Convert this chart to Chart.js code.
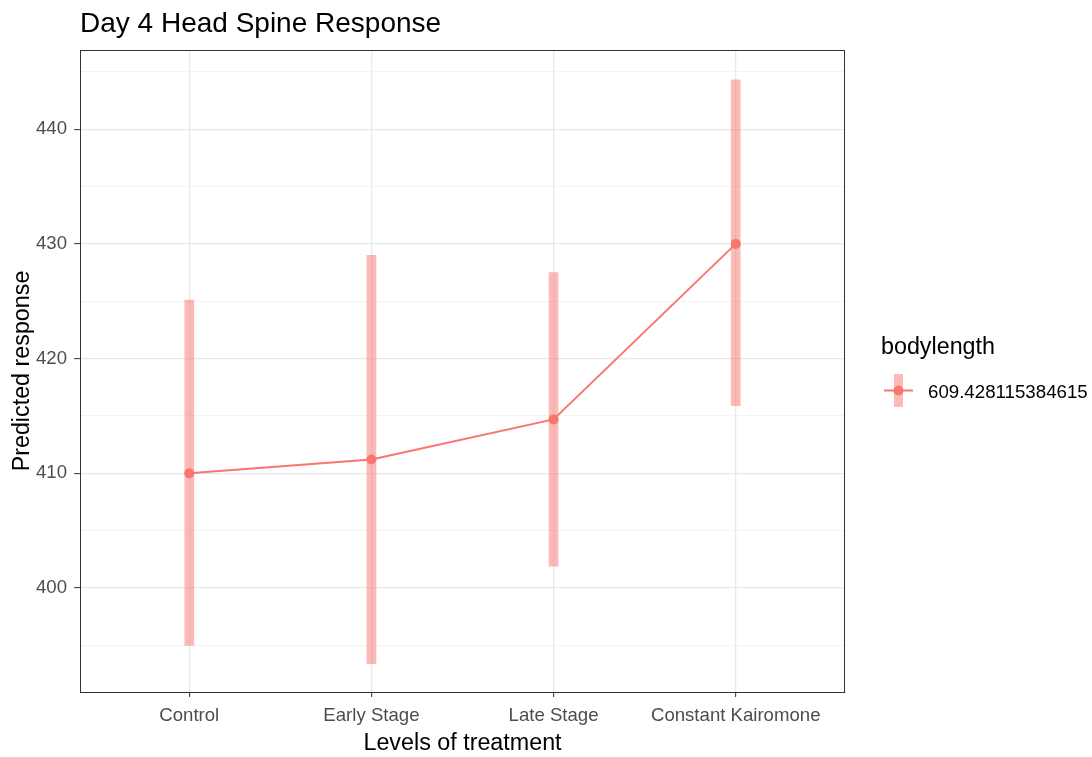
<!DOCTYPE html>
<html>
<head>
<meta charset="utf-8">
<script src="https://cdn.jsdelivr.net/npm/chart.js@4.4.1/dist/chart.umd.min.js"></script>
<style>
  html, body { margin: 0; padding: 0; background: #fff; }
  #wrap { width: 1092px; height: 757px; position: relative; }
</style>
</head>
<body>
<div id="wrap"><canvas id="c" width="1092" height="757"></canvas></div>
<script>
// ---- Data ----
const categories = ["Control", "Early Stage", "Late Stage", "Constant Kairomone"];
const predicted  = [410.0, 411.2, 414.7, 430.0];
const lowerCI    = [395.0, 393.4, 401.9, 415.9];
const upperCI    = [425.1, 429.0, 427.5, 444.3];
const yTicks     = [395, 400, 405, 410, 415, 420, 425, 430, 435, 440, 445];
const legendTitle = "bodylength";
const legendLabel = "609.428115384615";
const chartTitle = "Day 4 Head Spine Response";
const xTitle = "Levels of treatment";
const yTitle = "Predicted response";

const FONT = "'Liberation Sans', Arial, Helvetica, sans-serif";
const RED = "#F8766D";
const RED_A = "rgba(248,118,109,0.5)";

const extras = {
  id: 'extras',
  afterDraw(chart) {
    const ctx = chart.ctx;
    const a = chart.chartArea;
    ctx.save();
    // panel border
    ctx.strokeStyle = '#333333';
    ctx.lineWidth = 1;
    ctx.strokeRect(a.left + 0.5, a.top + 0.5, a.right - a.left - 1, a.bottom - a.top);
    // title
    ctx.fillStyle = '#000';
    ctx.font = "28px " + FONT;
    ctx.textBaseline = 'alphabetic';
    ctx.textAlign = 'left';
    ctx.fillText(chartTitle, 80, 32);
    // legend
    ctx.font = "23.3px " + FONT;
    ctx.fillText(legendTitle, 881, 354);
    // key
    ctx.fillStyle = RED_A;
    ctx.fillRect(894, 374, 9, 33);
    ctx.strokeStyle = RED;
    ctx.lineWidth = 2;
    ctx.beginPath();
    ctx.moveTo(884, 390.5); ctx.lineTo(913, 390.5);
    ctx.stroke();
    ctx.fillStyle = RED;
    ctx.beginPath();
    ctx.arc(898.5, 390.5, 5, 0, Math.PI * 2);
    ctx.fill();
    ctx.fillStyle = '#000';
    ctx.font = "18.7px " + FONT;
    ctx.fillText(legendLabel, 928, 398);
    ctx.restore();
  }
};

new Chart(document.getElementById('c'), {
  data: {
    datasets: [
      {
        type: 'line',
        order: 0,
        data: categories.map((c, i) => ({ x: i + 1, y: predicted[i] })),
        borderColor: RED,
        backgroundColor: RED,
        borderWidth: 2,
        pointRadius: 5,
        pointHoverRadius: 5,
        pointBackgroundColor: RED,
        pointBorderWidth: 0,
        tension: 0
      },
      {
        type: 'bar',
        order: 1,
        data: categories.map((c, i) => ({ x: i + 1, y: [lowerCI[i], upperCI[i]] })),
        backgroundColor: RED_A,
        borderWidth: 0,
        barThickness: 9
      }
    ]
  },
  options: {
    responsive: false,
    devicePixelRatio: 1,
    animation: false,
    layout: { padding: { top: 50, right: 247, left: 0, bottom: 0 } },
    plugins: {
      legend: { display: false },
      title: { display: false },
      tooltip: { enabled: false }
    },
    scales: {
      x: {
        type: 'linear',
        min: 0.4,
        max: 4.6,
        offset: false,
        afterBuildTicks: s => { s.ticks = categories.map((c, i) => ({ value: i + 1 })); },
        afterFit: s => { s.height = 65; },
        ticks: {
          autoSkip: false,
          maxRotation: 0,
          padding: 8,
          color: '#4D4D4D',
          font: { family: FONT, size: 18.6 },
          callback: v => categories[Math.round(v) - 1]
        },
        grid: {
          offset: false,
          color: '#E8E8E8',
          lineWidth: 1.3,
          tickLength: 5,
          tickColor: '#333333',
          tickWidth: 1
        },
        border: { display: true, color: '#333333', width: 1 },
        title: {
          display: true,
          text: xTitle,
          color: '#000',
          font: { family: FONT, size: 23.3 },
          padding: { top: 0, bottom: -1 }
        }
      },
      y: {
        type: 'linear',
        min: 390.94,
        max: 446.9,
        afterBuildTicks: s => { s.ticks = yTicks.map(v => ({ value: v })); },
        afterFit: s => { s.width = 80; },
        ticks: {
          autoSkip: false,
          padding: 7,
          color: '#4D4D4D',
          font: { family: FONT, size: 18.6 },
          callback: v => (v % 10 === 0 ? String(v) : '')
        },
        grid: {
          color: c => (c.tick && c.tick.value % 10 === 0 ? '#E8E8E8' : '#F2F2F2'),
          lineWidth: c => (c.tick && c.tick.value % 10 === 0 ? 1.3 : 0.9),
          tickLength: 6,
          tickColor: c => (c.tick && c.tick.value % 10 === 0 ? '#333333' : 'rgba(0,0,0,0)'),
          tickWidth: 1
        },
        border: { display: true, color: '#333333', width: 1 },
        title: {
          display: true,
          text: yTitle,
          color: '#000',
          font: { family: FONT, size: 23.3 },
          padding: { top: 9, bottom: 0 }
        }
      }
    }
  },
  plugins: [extras]
});
</script>
</body>
</html>
